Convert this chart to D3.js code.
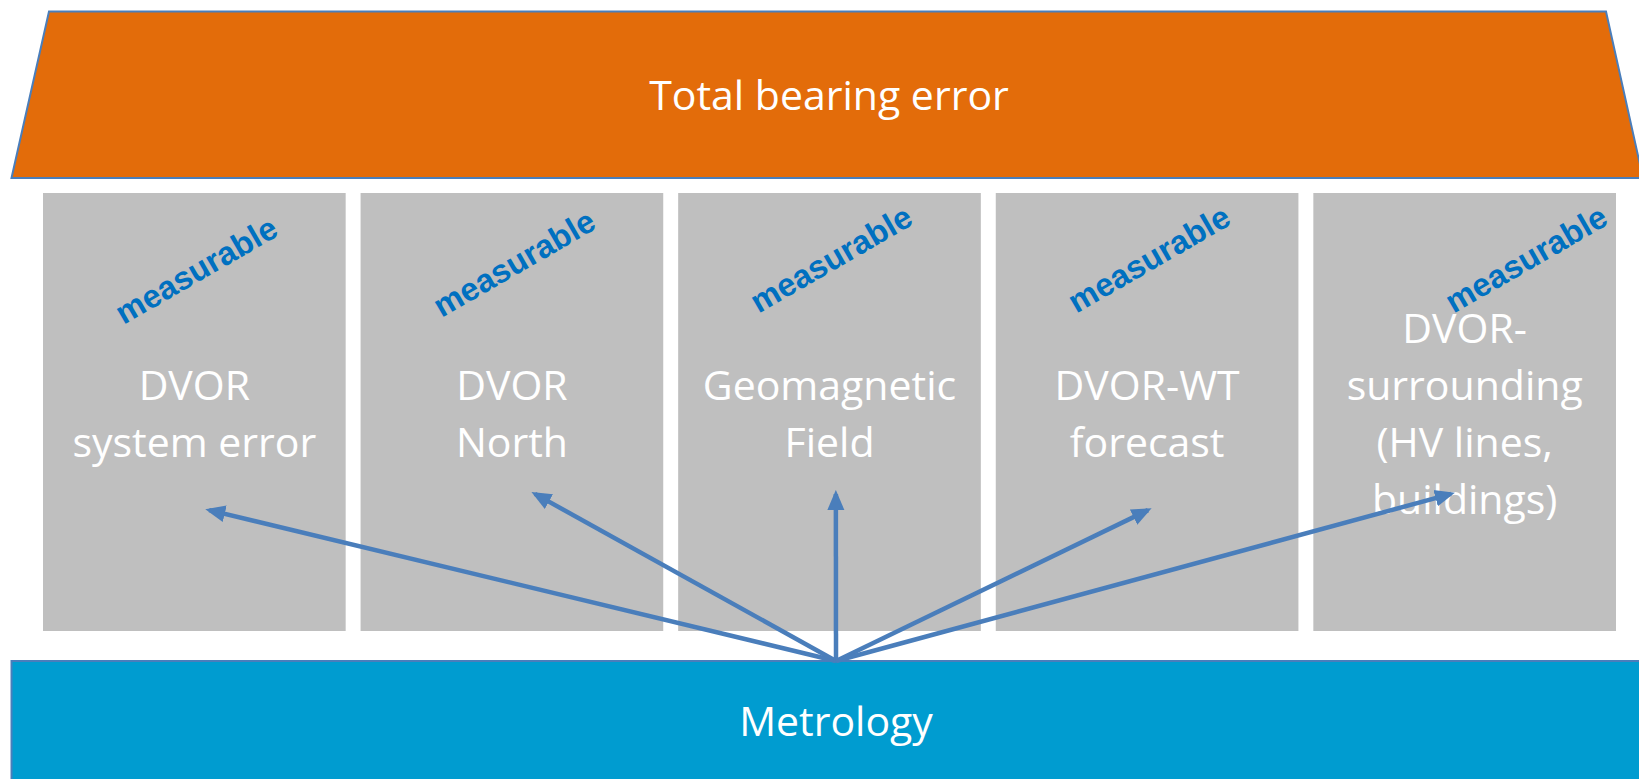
<!DOCTYPE html>
<html>
<head>
<meta charset="utf-8">
<script src="https://cdn.jsdelivr.net/npm/d3@7"></script>
<style>
  html, body { margin: 0; padding: 0; background: #ffffff; overflow: hidden; }
  svg { display: block; }
</style>
</head>
<body>
<svg id="chart" width="1639" height="779"></svg>
<script>
// ---------- data ----------
const titleLabel = "Total bearing error";
const baseLabel = "Metrology";
const tagLabel = "measurable";
const categories = ["sys", "north", "geo", "wt", "surr"];
const categoryLines = [
  ["DVOR", "system error"],
  ["DVOR", "North"],
  ["Geomagnetic", "Field"],
  ["DVOR-WT", "forecast"],
  ["DVOR-", "surrounding", "(HV lines,", "buildings)"]
];
// where each arrow points inside its box (fraction of box width / height)
const arrowTargetX = [0.549, 0.576, 0.521, 0.503, 0.455];
const arrowTargetY = [0.724, 0.687, 0.687, 0.724, 0.687];
// where the "measurable" tag sits inside each box (fraction of box width / height)
const tagX = [0.506, 0.507, 0.505, 0.506, 0.703];
const tagY = [0.176, 0.160, 0.150, 0.150, 0.150];

// ---------- layout ----------
const W = 1639, H = 779;
const roof = { top: 11.5, bottom: 178, topLeft: 49, topRight: 1606, botLeft: 11.5, botRight: 1643 };
const boxTop = 193, boxBottom = 631;
const baseTop = 661, baseLeft = 11.5;
const origin = { x: 836, y: 661 };
const mainFont = "'Open Sans', 'Noto Sans', sans-serif";
const mainSize = 41, lineH = 57;

const svg = d3.select("#chart");

const x = d3.scaleBand().domain(categories).range([43, 1616]).paddingInner(0.047).paddingOuter(0);
const y = d3.scaleLinear().domain([0, 1]).range([boxTop, boxBottom]);

// roof (trapezoid)
svg.append("path")
  .attr("d", d3.line()([[roof.topLeft, roof.top], [roof.topRight, roof.top], [roof.botRight, roof.bottom], [roof.botLeft, roof.bottom]]) + "Z")
  .attr("fill", "#E36C0A")
  .attr("stroke", "#4A7EBB")
  .attr("stroke-width", 2);

svg.append("text")
  .attr("x", 829).attr("y", (roof.top + roof.bottom) / 2 + 15)
  .attr("text-anchor", "middle")
  .attr("font-family", mainFont).attr("font-size", mainSize)
  .attr("fill", "#ffffff")
  .text(titleLabel);

// pillars
const rows = categories.map((c, i) => ({ key: c, lines: categoryLines[i], ax: arrowTargetX[i], ay: arrowTargetY[i], tx: tagX[i], ty: tagY[i] }));

const g = svg.selectAll("g.pillar").data(rows).join("g").attr("class", "pillar");

g.append("rect")
  .attr("x", d => x(d.key)).attr("y", y(0))
  .attr("width", x.bandwidth()).attr("height", y(1) - y(0))
  .attr("fill", "#BFBFBF");

g.append("text")
  .attr("text-anchor", "middle")
  .attr("font-family", mainFont).attr("font-size", mainSize)
  .attr("fill", "#ffffff")
  .each(function (d) {
    const t = d3.select(this);
    const cx = x(d.key) + x.bandwidth() / 2;
    const cy = y(0.5) + 16;
    const n = d.lines.length;
    d.lines.forEach((ln, k) => {
      t.append("tspan").attr("x", cx).attr("y", cy + (k - (n - 1) / 2) * lineH).text(ln);
    });
  });

// metrology base
svg.append("rect")
  .attr("x", baseLeft).attr("y", baseTop)
  .attr("width", W + 20 - baseLeft).attr("height", H - baseTop + 20)
  .attr("fill", "#009CD0")
  .attr("stroke", "#4A7EBB").attr("stroke-width", 2);

svg.append("text")
  .attr("x", 836).attr("y", (baseTop + H) / 2 + 16)
  .attr("text-anchor", "middle")
  .attr("font-family", mainFont).attr("font-size", mainSize)
  .attr("fill", "#ffffff")
  .text(baseLabel);

// arrows
const defs = svg.append("defs");
defs.append("marker")
  .attr("id", "head")
  .attr("markerUnits", "userSpaceOnUse")
  .attr("viewBox", "0 -9 20 18")
  .attr("markerWidth", 20).attr("markerHeight", 18)
  .attr("refX", 16).attr("refY", 0)
  .attr("orient", "auto")
  .append("path").attr("d", "M0,-8.5L20,0L0,8.5Z").attr("fill", "#4A7EBB");

svg.selectAll("line.arrow").data(rows).join("line")
  .attr("class", "arrow")
  .attr("x1", origin.x).attr("y1", origin.y)
  .attr("x2", d => x(d.key) + d.ax * x.bandwidth())
  .attr("y2", d => y(d.ay))
  .attr("stroke", "#4A7EBB").attr("stroke-width", 4.5)
  .attr("marker-end", "url(#head)");

// measurable tags (drawn on top)
svg.selectAll("text.tag").data(rows).join("text")
  .attr("class", "tag")
  .attr("transform", d => `translate(${x(d.key) + d.tx * x.bandwidth()},${y(d.ty)}) rotate(-30)`)
  .attr("text-anchor", "middle")
  .attr("dy", "0.35em")
  .attr("font-family", "'Liberation Sans', Arial, sans-serif")
  .attr("font-weight", "bold")
  .attr("font-size", 32.5)
  .attr("fill", "#0070C0")
  .text(tagLabel);
</script>
</body>
</html>
